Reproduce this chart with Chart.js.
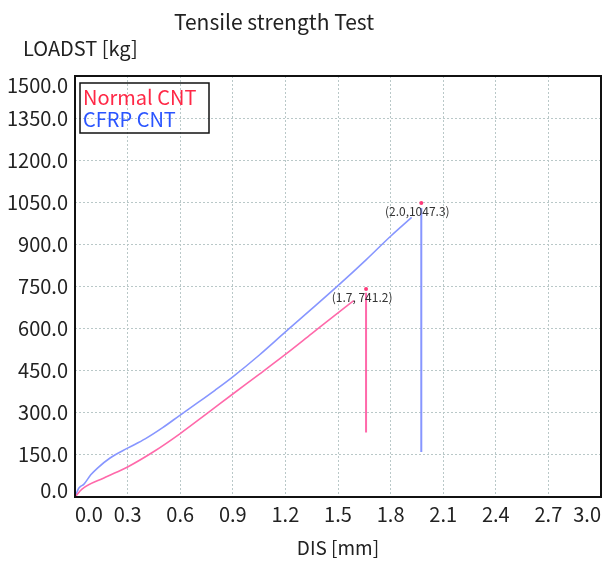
<!DOCTYPE html>
<html>
<head>
<meta charset="utf-8">
<script src="https://cdn.jsdelivr.net/npm/chart.js@4.4.1/dist/chart.umd.min.js"></script>
<style>
  html, body { margin: 0; padding: 0; background: #fff; }
  #wrap { width: 606px; height: 563px; }
</style>
</head>
<body>
<div id="wrap"><canvas id="myChartTensile"></canvas></div>
<script>
//? Data.

const chartTitle = "Tensile strength Test";
const yTitle = "LOADST [kg]";
const xTitle = "DIS [mm]";

const seriesNames = ["Normal CNT", "CFRP CNT"];

// Normal CNT curve
const normalDis = [0, 0.04, 0.165, 0.3, 0.45, 0.6, 0.75, 0.9, 1.05, 1.2, 1.35, 1.5, 1.59];
const normalLoad = [0, 28, 68, 107, 162, 226, 296, 367, 437, 508, 582, 656, 700];
const normalPeak = { x: 1.66, y: 741.2 };
const normalDropDis = [1.66, 1.66];
const normalDropLoad = [728, 230];

// CFRP CNT curve
const cfrpDis = [0, 0.02, 0.03, 0.05, 0.09, 0.13, 0.2, 0.3, 0.4, 0.5, 0.6, 0.7, 0.8, 0.9, 1.05, 1.2, 1.35, 1.5, 1.66, 1.8, 1.92];
const cfrpLoad = [0, 30, 37, 45, 79, 104, 139, 174, 207, 247, 292, 336, 381, 428, 505, 588, 670, 753, 845, 929, 996];
const cfrpPeak = { x: 1.975, y: 1047.3 };
const cfrpDropDis = [1.975, 1.975];
const cfrpDropLoad = [1030, 160];

const peakLabels = ["(1.7, 741.2)", "(2.0,1047.3)"];

//? -------------------------------------------------

const toPoints = (xs, ys) => xs.map((x, i) => ({ x: x, y: ys[i] }));

const pinkLine = "rgba(255, 105, 170, 1)";
const blueLine = "rgba(135, 150, 255, 1)";
const legendColors = ["#ff2846", "#2b55ff"];
const fontName = "'Noto Sans CJK KR', 'Noto Sans', sans-serif";

//? Plugin : cadre, titres, légende et étiquettes des pics.

const decorPlugin = {
  id: "decor",
  afterDraw(chart) {
    const ctx = chart.ctx;
    const area = chart.chartArea;
    const sx = chart.scales.x;
    const sy = chart.scales.y;

    ctx.save();
    // cadre
    ctx.strokeStyle = "#111";
    ctx.lineWidth = 2;
    ctx.strokeRect(area.left, area.top, area.right - area.left, area.bottom - area.top);

    // titres
    ctx.fillStyle = "#222";
    ctx.textAlign = "center";
    ctx.textBaseline = "alphabetic";
    ctx.font = "21px " + fontName;
    ctx.fillText(chartTitle, 274, 30);
    ctx.textAlign = "left";
    ctx.font = "20px " + fontName;
    ctx.fillText(yTitle, 23, 56);

    // légende
    ctx.strokeStyle = "#111";
    ctx.lineWidth = 1.5;
    ctx.strokeRect(80, 83, 129, 50);
    ctx.font = "20px " + fontName;
    seriesNames.forEach((name, i) => {
      ctx.fillStyle = legendColors[i];
      ctx.fillText(name, 83, 105 + i * 22);
    });

    // étiquettes des pics
    ctx.fillStyle = "#333";
    ctx.textAlign = "center";
    ctx.textBaseline = "middle";
    ctx.font = "12px " + fontName;
    [normalPeak, cfrpPeak].forEach((p, i) => {
      const px = sx.getPixelForValue(p.x);
      const py = sy.getPixelForValue(p.y);
      ctx.fillText(peakLabels[i], px - 4, py + 8);
    });
    ctx.restore();
  },
};

//? Construction du graphique.

const ctxTensile = document.getElementById("myChartTensile").getContext("2d");

const data = {
  datasets: [
    {
      label: seriesNames[0],
      data: toPoints(normalDis, normalLoad),
      borderColor: pinkLine,
      borderWidth: 1.6,
      pointRadius: 0,
      cubicInterpolationMode: "monotone",
    },
    {
      label: seriesNames[0] + " drop",
      data: toPoints(normalDropDis, normalDropLoad),
      borderColor: pinkLine,
      borderWidth: 2,
      pointRadius: 0,
    },
    {
      label: seriesNames[0] + " peak",
      data: [normalPeak],
      showLine: false,
      pointRadius: 2,
      pointBorderWidth: 0,
      backgroundColor: "#ff3a7a",
    },
    {
      label: seriesNames[1],
      data: toPoints(cfrpDis, cfrpLoad),
      borderColor: blueLine,
      borderWidth: 1.6,
      pointRadius: 0,
      cubicInterpolationMode: "monotone",
    },
    {
      label: seriesNames[1] + " drop",
      data: toPoints(cfrpDropDis, cfrpDropLoad),
      borderColor: blueLine,
      borderWidth: 2,
      pointRadius: 0,
    },
    {
      label: seriesNames[1] + " peak",
      data: [cfrpPeak],
      showLine: false,
      pointRadius: 2,
      pointBorderWidth: 0,
      backgroundColor: "#ff3a7a",
    },
  ],
};

const gridColor = "rgba(185, 200, 200, 1)";

const optionsTensile = {
  responsive: true,
  maintainAspectRatio: false,
  animation: { duration: 0 },
  layout: { padding: { top: 76, right: 4, left: 0, bottom: 0 } },
  plugins: {
    legend: { display: false },
    tooltip: { enabled: false },
  },
  scales: {
    x: {
      type: "linear",
      min: 0,
      max: 3,
      grid: { color: gridColor, drawTicks: false, lineWidth: 1 },
      border: { display: false, dash: [2, 2] },
      ticks: {
        stepSize: 0.3,
        align: "inner",
        padding: 5,
        color: "#222",
        font: { family: fontName, size: 20 },
        maxRotation: 0,
        callback: (v) => Number(v).toFixed(1),
      },
      title: {
        display: true,
        text: xTitle,
        color: "#222",
        font: { family: fontName, size: 19 },
        padding: { top: 8, bottom: 4 },
      },
      afterFit: (s) => { s.height = 66; },
    },
    y: {
      type: "linear",
      min: 0,
      max: 1500,
      grid: { color: gridColor, drawTicks: false, lineWidth: 1 },
      border: { display: false, dash: [2, 2] },
      ticks: {
        stepSize: 150,
        padding: 7,
        color: "#222",
        // premier et dernier label Y décalés vers l'intérieur (ligne vide)
        font: (c) => ({
          family: fontName,
          size: 20,
          lineHeight: c.index === 0 ? "14px" : c.index === 10 ? "18px" : 1.2,
        }),
        callback: (v, i, ticks) => {
          const txt = Number(v).toFixed(1);
          if (i === 0) return [txt, ""];
          if (i === ticks.length - 1) return ["", txt];
          return txt;
        },
      },
      afterFit: (s) => { s.width = 75; },
    },
  },
};

new Chart(ctxTensile, {
  type: "line",
  data,
  options: optionsTensile,
  plugins: [decorPlugin],
});
</script>
</body>
</html>
